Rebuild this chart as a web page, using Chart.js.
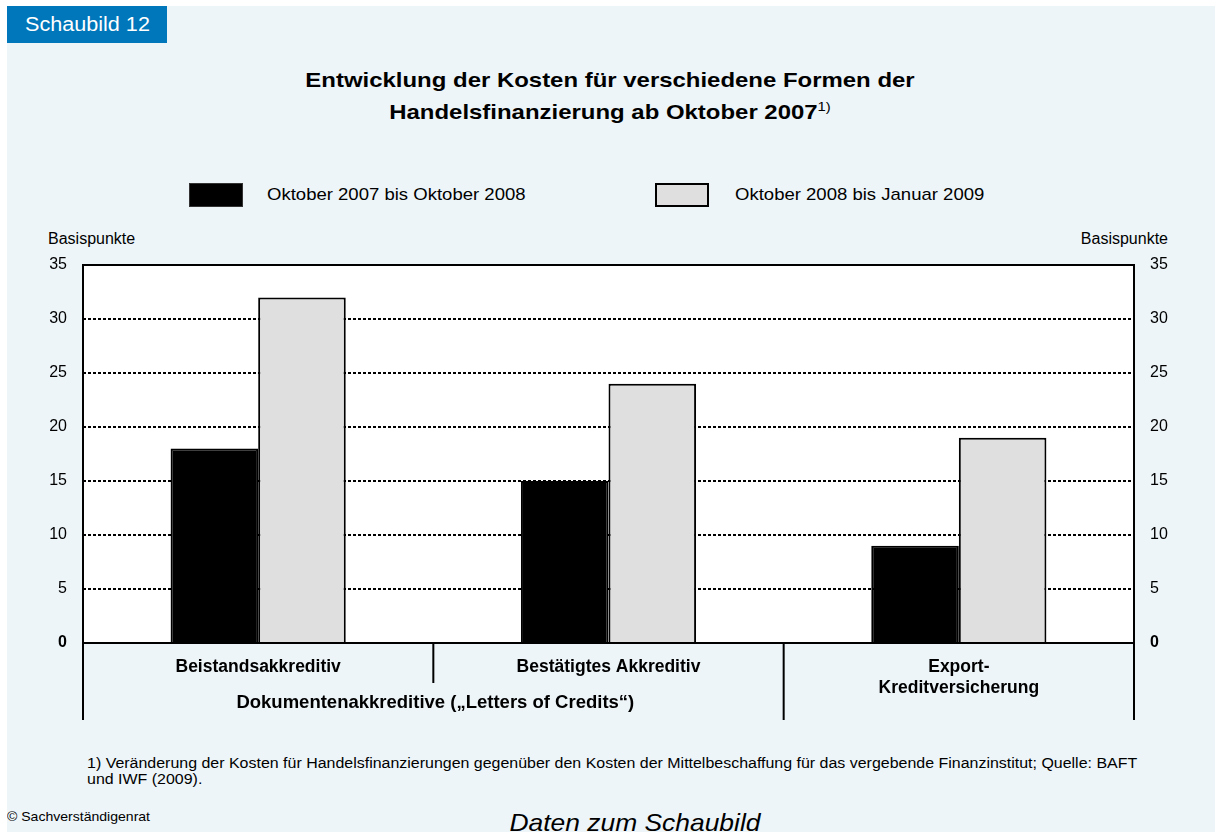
<!DOCTYPE html>
<html lang="de">
<head>
<meta charset="utf-8">
<title>Schaubild 12</title>
<script src="https://cdn.jsdelivr.net/npm/chart.js@4.4.1/dist/chart.umd.min.js"></script>
<style>
  html, body { margin: 0; padding: 0; background: #ffffff; }
  body { width: 1215px; height: 832px; position: relative; overflow: hidden;
         font-family: "Liberation Sans", Arial, sans-serif; color: #000; }
  .panel { position: absolute; left: 7px; top: 6px; right: 0; bottom: 0; background: #edf5f9; }
  .tag { position: absolute; left: 7px; top: 6px; width: 160px; height: 37px; background: #0077bb; color: #fff; }
  .tag span { position: absolute; left: 18px; top: 0; font-size: 20px; line-height: 37px;
              transform: scaleX(1.08); transform-origin: left center; white-space: nowrap; }
  .title { position: absolute; left: 7px; right: 0; top: 64px; text-align: center;
           font-weight: bold; font-size: 21px; line-height: 32px; transform: scaleX(1.14); transform-origin: 611px 0; }
  .title sup { font-weight: normal; font-size: 13px; vertical-align: 8px; line-height: 0; }
  .legend-box { position: absolute; top: 183px; width: 54px; height: 24px; box-sizing: border-box; }
  .legend-text { position: absolute; top: 184px; font-size: 17px; line-height: 22px; white-space: nowrap;
                 transform: scaleX(1.09); transform-origin: left center; }
  .unit { position: absolute; top: 229px; font-size: 16px; line-height: 20px; }
  .note { position: absolute; left: 87px; top: 755px; font-size: 14px; line-height: 16px; width: 935px;
          transform: scaleX(1.14); transform-origin: left top; }
  .copy { position: absolute; left: 7px; top: 809px; font-size: 13px; white-space: nowrap;
          transform: scaleX(1.08); transform-origin: left top; }
  .daten { position: absolute; left: 0; width: 1270px; top: 809px; text-align: center; font-style: italic;
           font-size: 24px; transform: scaleX(1.1); transform-origin: 635px 0; }
  canvas { position: absolute; left: 0; top: 0; }
</style>
</head>
<body>
<div class="panel"></div>
<div class="tag"><span>Schaubild 12</span></div>
<div class="title">Entwicklung der Kosten für verschiedene Formen der<br>Handelsfinanzierung ab Oktober 2007<sup>1)</sup></div>

<div class="legend-box" style="left:189px; background:#000; border:1px solid #333;"></div>
<div class="legend-text" style="left:267px;" id="leg0"></div>
<div class="legend-box" style="left:655px; background:#dfdfdf; border:2px solid #000;"></div>
<div class="legend-text" style="left:735px;" id="leg1"></div>

<div class="unit" style="left:48px;">Basispunkte</div>
<div class="unit" style="right:47px;">Basispunkte</div>

<div class="note">1) Veränderung der Kosten für Handelsfinanzierungen gegenüber den Kosten der Mittelbeschaffung für das vergebende Finanzinstitut; Quelle: BAFT und IWF (2009).</div>
<div class="copy">© Sachverständigenrat</div>
<div class="daten">Daten zum Schaubild</div>

<canvas id="chart" width="1215" height="832"></canvas>

<script>
// ── Data ──
const kategorien = ['Beistandsakkreditiv', 'Bestätigtes Akkreditiv', ['Export-', 'Kreditversicherung']];
const gruppenLabel = 'Dokumentenakkreditive („Letters of Credits“)';
const serienNamen = ['Oktober 2007 bis Oktober 2008', 'Oktober 2008 bis Januar 2009'];
const werte2007 = [18, 15, 9];
const werte2008 = [32, 24, 19];
const yMin = 0, yMax = 35, yStep = 5;

document.getElementById('leg0').textContent = serienNamen[0];
document.getElementById('leg1').textContent = serienNamen[1];

const tickFont = (ctx) => ({ family: 'Liberation Sans', size: 16, weight: ctx.tick && ctx.tick.value === 0 ? 'bold' : 'normal' });

// plot background + frame + separators below the axis
const rahmenPlugin = {
    id: 'rahmen',
    beforeDraw(chart) {
        const a = chart.chartArea, c = chart.ctx;
        c.save();
        c.fillStyle = '#ffffff';
        c.fillRect(a.left, a.top, a.right - a.left, a.bottom - a.top);
        c.restore();
    },
    afterDatasetsDraw(chart) {
        const a = chart.chartArea, c = chart.ctx, x = chart.scales.x;
        c.save();
        c.strokeStyle = '#000';
        c.lineWidth = 2;
        c.strokeRect(a.left, a.top, a.right - a.left, a.bottom - a.top);

        const mid01 = (x.getPixelForValue(0) + x.getPixelForValue(1)) / 2;
        const mid12 = (x.getPixelForValue(1) + x.getPixelForValue(2)) / 2;
        c.beginPath();
        c.moveTo(a.left, a.bottom); c.lineTo(a.left, a.bottom + 77);
        c.moveTo(mid01, a.bottom); c.lineTo(mid01, a.bottom + 40);
        c.moveTo(mid12, a.bottom); c.lineTo(mid12, a.bottom + 77);
        c.moveTo(a.right, a.bottom); c.lineTo(a.right, a.bottom + 77);
        c.stroke();

        c.fillStyle = '#000';
        c.font = 'bold 18.5px "Liberation Sans"';
        c.textAlign = 'center';
        c.textBaseline = 'middle';
        c.fillText(gruppenLabel, mid01 + 2, a.bottom + 60);
        c.restore();
    }
};

new Chart(document.getElementById('chart'), {
    type: 'bar',
    data: {
        labels: kategorien,
        datasets: [
            {
                label: serienNamen[0],
                data: werte2007,
                backgroundColor: '#000000',
                borderColor: '#000000',
                borderWidth: 2,
            },
            {
                label: serienNamen[1],
                data: werte2008,
                backgroundColor: '#dfdfdf',
                borderColor: '#000000',
                borderWidth: 2,
            }
        ]
    },
    options: {
        responsive: false,
        animation: false,
        devicePixelRatio: 1,
        layout: { padding: { top: 265, left: 0, right: 0, bottom: 0 } },
        datasets: { bar: { categoryPercentage: 0.5, barPercentage: 1 } },
        plugins: { legend: { display: false }, tooltip: { enabled: false }, title: { display: false } },
        scales: {
            x: {
                grid: { display: false, drawTicks: false },
                border: { display: false },
                ticks: { color: '#000', padding: 14, maxRotation: 0, autoSkip: false,
                         font: { family: 'Liberation Sans', size: 17.5, weight: 'bold' } },
                afterFit: s => { s.height = 189; }
            },
            y: {
                position: 'left',
                min: yMin, max: yMax,
                grid: {
                    drawTicks: false,
                    color: ctx => (ctx.tick.value === yMin || ctx.tick.value === yMax) ? 'rgba(0,0,0,0)' : '#000',
                    lineWidth: 2
                },
                border: { display: false, dash: [3, 2] },
                ticks: { stepSize: yStep, color: '#000', padding: 16, font: tickFont },
                afterFit: s => { s.width = 83; }
            },
            y2: {
                position: 'right',
                min: yMin, max: yMax,
                grid: { display: false, drawTicks: false },
                border: { display: false },
                ticks: { stepSize: yStep, color: '#000', padding: 16, font: tickFont },
                afterFit: s => { s.width = 81; }
            }
        }
    },
    plugins: [rahmenPlugin]
});
</script>
</body>
</html>
